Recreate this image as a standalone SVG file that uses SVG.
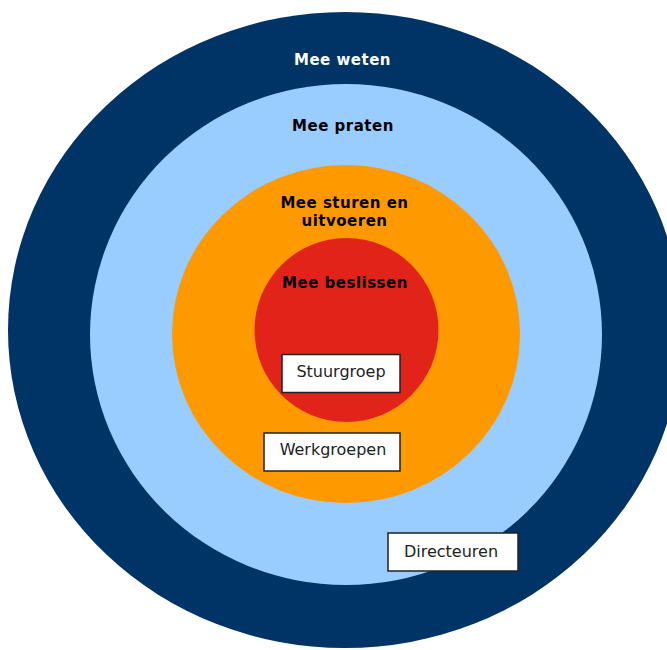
<svg xmlns="http://www.w3.org/2000/svg" width="667" height="650" viewBox="0 0 667 650">
<style>
.lbl{font-family:"DejaVu Sans",Verdana,sans-serif;font-weight:bold;font-size:15px;letter-spacing:0.5px;text-anchor:middle}
.box rect{fill:#fff;stroke:#222;stroke-width:1.5}
.box text{font-family:"DejaVu Sans",Verdana,sans-serif;font-size:16px;fill:#222;text-anchor:middle}
</style>
<rect width="667" height="650" fill="#fff"/>
<g id="ring-weten">
<ellipse cx="345" cy="330" rx="337" ry="318" fill="#003366"/>
<text class="lbl" x="342.5" y="65" fill="#fff">Mee weten</text>
</g>
<g id="ring-praten">
<ellipse cx="346" cy="334.5" rx="256" ry="250.5" fill="#99ccff"/>
<text class="lbl" x="343" y="131" fill="#000">Mee praten</text>
</g>
<g id="ring-sturen">
<ellipse cx="346" cy="334" rx="174" ry="169" fill="#ff9900"/>
<text class="lbl" x="344.5" y="208" fill="#000">Mee sturen en</text>
<text class="lbl" x="344.5" y="226" fill="#000">uitvoeren</text>
</g>
<g id="ring-beslissen">
<ellipse cx="346.5" cy="330" rx="92" ry="92" fill="#e2231a"/>
<text class="lbl" x="345" y="288" fill="#000">Mee beslissen</text>
</g>
<g id="stuurgroep" class="box">
<rect x="282" y="354.5" width="118" height="38"/>
<text x="341" y="377">Stuurgroep</text>
</g>
<g id="werkgroepen" class="box">
<rect x="264" y="433" width="136" height="38"/>
<text x="333" y="455">Werkgroepen</text>
</g>
<g id="directeuren" class="box">
<rect x="388" y="533" width="130" height="38"/>
<text x="451" y="556.5">Directeuren</text>
</g>
<g id="connectors"/>
</svg>
